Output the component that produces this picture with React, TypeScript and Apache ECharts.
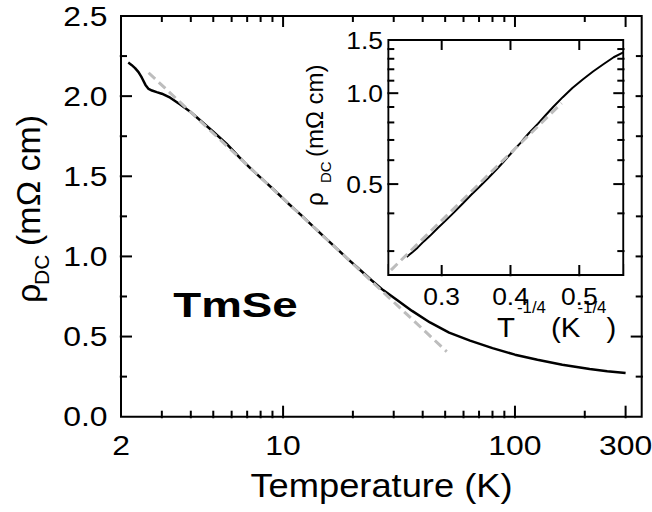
import React, { useEffect, useRef } from 'react';
import * as echarts from 'echarts';

// ---------- data ----------
const mainT = [2.15, 2.22, 2.3, 2.38, 2.46, 2.55, 2.63, 2.72, 2.85, 3.0, 3.26, 3.6, 3.98, 4.4, 5.0, 5.7, 6.5, 7.2, 8.2, 9.3, 10.5, 12, 13.5, 15, 17, 19, 21.5, 24, 27, 31, 36, 43, 52, 64, 80, 100, 125, 160, 210, 250, 300];
const mainRho = [2.21, 2.195, 2.175, 2.15, 2.115, 2.07, 2.045, 2.035, 2.025, 2.015, 1.99, 1.948, 1.903, 1.848, 1.778, 1.704, 1.617, 1.552, 1.478, 1.405, 1.332, 1.256, 1.186, 1.124, 1.05, 0.985, 0.915, 0.853, 0.79, 0.728, 0.66, 0.588, 0.525, 0.475, 0.428, 0.387, 0.355, 0.324, 0.297, 0.284, 0.272];
const mainFitT = [2.63, 50.8];
const mainFitRho = [2.146, 0.406];

const insetX = [0.249, 0.257, 0.265, 0.274, 0.283, 0.294, 0.305, 0.318, 0.331, 0.343, 0.355, 0.367, 0.38, 0.39, 0.4, 0.407, 0.414, 0.42, 0.427, 0.433, 0.44, 0.45, 0.462, 0.476, 0.49, 0.505, 0.52, 0.535, 0.55, 0.564];
const insetRho = [0.287, 0.297, 0.308, 0.323, 0.337, 0.357, 0.377, 0.403, 0.432, 0.461, 0.49, 0.522, 0.56, 0.593, 0.629, 0.656, 0.682, 0.708, 0.738, 0.763, 0.793, 0.84, 0.9, 0.97, 1.04, 1.11, 1.18, 1.247, 1.315, 1.365];
const insetFitX = [0.2263, 0.4744];
const insetFitRho = [0.2596, 0.927];

// ---------- ticks & labels ----------
const mainXMajorTicks = [10, 100, 300];
const mainXMinorTicks = [3, 4, 5, 6, 7, 8, 9, 20, 30, 40, 50, 60, 70, 80, 90, 200];
const mainXLabels = [2, 10, 100, 300];
const mainYMajorTicks = [0.5, 1.0, 1.5, 2.0];
const mainYMinorTicks = [0.25, 0.75, 1.25, 1.75, 2.25];
const mainYLabels = [0, 0.5, 1.0, 1.5, 2.0, 2.5];
const insetXMajorTicks = [0.3, 0.4, 0.5];
const insetXLabels = [0.3, 0.4, 0.5];
const insetYMajorTicks = [0.5, 1.0];
const insetYMinorTicks = [0.3, 0.4, 0.6, 0.7, 0.8, 0.9, 1.1, 1.2, 1.3, 1.4];
const insetYLabels = [0.5, 1.0, 1.5];

const MAIN_X_RANGE = [2, 352];
const MAIN_Y_RANGE = [0, 2.5];
const INSET_X_RANGE = [0.2224, 0.564];
const INSET_Y_RANGE = [0.25, 1.5];

const FONT = '"Liberation Sans", Arial, Helvetica, sans-serif';

// Tick marks: a thin rect symbol centred on the frame edge (placed through the
// axis scales); the outer half is hidden by white strips drawn outside the frame.
function tickSeries(points: number[][], grid: number, len: number, isX: boolean) {
  return {
    type: 'scatter',
    xAxisIndex: grid,
    yAxisIndex: grid,
    silent: true,
    clip: true,
    z: 6,
    symbol: 'rect',
    symbolSize: isX ? [2, 2 * len] : [2 * len, 2],
    itemStyle: { color: '#000', opacity: 1 },
    emphasis: { disabled: true },
    data: points,
  };
}

function xTicks(values: number[], grid: number, yRange: number[], len: number) {
  return [
    tickSeries(values.map((v) => [v, yRange[0]]), grid, len, true),
    tickSeries(values.map((v) => [v, yRange[1]]), grid, len, true),
  ];
}

function yTicks(values: number[], grid: number, xRange: number[], len: number) {
  return [
    tickSeries(values.map((v) => [xRange[0], v]), grid, len, false),
    tickSeries(values.map((v) => [xRange[1], v]), grid, len, false),
  ];
}

function xLabelSeries(values: number[], grid: number, yRef: number, dy: number, size: number, sx: number, fmt: (v: number) => string) {
  return {
    type: 'custom',
    xAxisIndex: grid,
    yAxisIndex: grid,
    silent: true,
    z: 8,
    data: values.map((v) => [v, yRef]),
    renderItem: (params: any, api: any) => {
      const cs = params.coordSys;
      const v = api.value(0);
      const x = api.coord([v, api.value(1)])[0];
      return {
        type: 'text',
        x,
        y: cs.y + cs.height + dy,
        scaleX: sx,
        style: {
          text: fmt(v),
          fill: '#000',
          font: `${size}px ${FONT}`,
          textAlign: 'center',
          textVerticalAlign: 'middle',
        },
      };
    },
  };
}

function yLabelSeries(values: number[], grid: number, xRef: number, dx: number, size: number, sx: number, fmt: (v: number) => string) {
  return {
    type: 'custom',
    xAxisIndex: grid,
    yAxisIndex: grid,
    silent: true,
    z: 8,
    data: values.map((v) => [xRef, v]),
    renderItem: (params: any, api: any) => {
      const cs = params.coordSys;
      const v = api.value(1);
      const y = api.coord([api.value(0), v])[1];
      return {
        type: 'text',
        x: cs.x - dx,
        y,
        scaleX: sx,
        style: {
          text: fmt(v),
          fill: '#000',
          font: `${size}px ${FONT}`,
          textAlign: 'right',
          textVerticalAlign: 'middle',
        },
      };
    },
  };
}

const hiddenAxis = {
  axisLine: { show: false },
  axisTick: { show: false },
  axisLabel: { show: false },
  splitLine: { show: false },
  minorTick: { show: false },
  minorSplitLine: { show: false },
};

function txt(text: string, x: number, y: number, size: number, opts: any = {}) {
  return {
    type: 'text',
    x,
    y,
    rotation: opts.rotation || 0,
    scaleX: opts.scaleX || 1,
    z: 10,
    style: {
      text,
      fill: '#000',
      font: `${opts.bold ? 'bold ' : ''}${size}px ${FONT}`,
      textAlign: opts.align || 'left',
      textVerticalAlign: 'middle',
    },
  };
}

// white strip outside a frame edge that hides the outer half of the tick marks
function strip(x: number, y: number, width: number, height: number) {
  return {
    type: 'rect',
    z: 7,
    silent: true,
    shape: { x, y, width, height },
    style: { fill: '#ffffff', stroke: null },
  };
}

export default function App() {
  const ref = useRef<HTMLDivElement>(null);

  useEffect(() => {
    if (!ref.current) return;
    const chart = echarts.init(ref.current, undefined, { renderer: 'svg' });
    const R = Math.PI / 2;
    const option: any = {
      animation: false,
      backgroundColor: '#fff',
      grid: [
        { left: 121, top: 16, width: 520.7, height: 400.7, show: true, borderColor: '#000', borderWidth: 2, backgroundColor: 'transparent' },
        { left: 388.3, top: 40, width: 235, height: 235, show: true, borderColor: '#000', borderWidth: 2, backgroundColor: '#fff' },
      ],
      xAxis: [
        { type: 'log', logBase: 10, gridIndex: 0, min: MAIN_X_RANGE[0], max: MAIN_X_RANGE[1], ...hiddenAxis },
        { type: 'value', gridIndex: 1, min: INSET_X_RANGE[0], max: INSET_X_RANGE[1], ...hiddenAxis },
      ],
      yAxis: [
        { type: 'value', gridIndex: 0, min: MAIN_Y_RANGE[0], max: MAIN_Y_RANGE[1], ...hiddenAxis },
        { type: 'log', logBase: 10, gridIndex: 1, min: INSET_Y_RANGE[0], max: INSET_Y_RANGE[1], ...hiddenAxis },
      ],
      series: [
        {
          type: 'line', xAxisIndex: 0, yAxisIndex: 0, symbol: 'none', z: 3,
          lineStyle: { color: '#000', width: 2.5 },
          data: mainT.map((t, i) => [t, mainRho[i]]),
        },
        {
          type: 'line', xAxisIndex: 0, yAxisIndex: 0, symbol: 'none', z: 4,
          lineStyle: { color: '#bdbdbd', width: 3, type: [9, 5] },
          data: mainFitT.map((t, i) => [t, mainFitRho[i]]),
        },
        {
          type: 'line', xAxisIndex: 1, yAxisIndex: 1, symbol: 'none', z: 3,
          lineStyle: { color: '#000', width: 2 },
          data: insetX.map((x, i) => [x, insetRho[i]]),
        },
        {
          type: 'line', xAxisIndex: 1, yAxisIndex: 1, symbol: 'none', z: 4,
          lineStyle: { color: '#bdbdbd', width: 3, type: [9, 5] },
          data: insetFitX.map((x, i) => [x, insetFitRho[i]]),
        },
        ...xTicks(mainXMajorTicks, 0, MAIN_Y_RANGE, 11),
        ...xTicks(mainXMinorTicks, 0, MAIN_Y_RANGE, 6),
        ...yTicks(mainYMajorTicks, 0, MAIN_X_RANGE, 11),
        ...yTicks(mainYMinorTicks, 0, MAIN_X_RANGE, 6),
        xLabelSeries(mainXLabels, 0, MAIN_Y_RANGE[0], 28.5, 28, 1.14, (v) => String(v)),
        yLabelSeries(mainYLabels, 0, MAIN_X_RANGE[0], 13.5, 28, 1.14, (v) => v.toFixed(1)),
        ...xTicks(insetXMajorTicks, 1, INSET_Y_RANGE, 10),
        ...yTicks(insetYMajorTicks, 1, INSET_X_RANGE, 10),
        ...yTicks(insetYMinorTicks, 1, INSET_X_RANGE, 6),
        xLabelSeries(insetXLabels, 1, INSET_Y_RANGE[0], 21, 24, 1.1, (v) => v.toFixed(1)),
        yLabelSeries(insetYLabels, 1, INSET_X_RANGE[0], 5.3, 24, 1.1, (v) => v.toFixed(1)),
      ],
      graphic: [
        // strips outside the main frame
        strip(106, 2, 13.8, 430),
        strip(643, 2, 9, 430),
        strip(106, 1, 546, 13.9),
        strip(106, 418.2, 546, 12),
        // strips outside the inset frame
        strip(376, 28, 11.2, 236),
        strip(624.6, 28, 11, 236),
        strip(420, 27, 180, 11.9),
        strip(420, 276.3, 180, 10.5),
        // texts
        txt('Temperature (K)', 381.5, 485.5, 33, { align: 'center', scaleX: 1.1 }),
        txt('TmSe', 235.5, 304.5, 36, { align: 'center', bold: true, scaleX: 1.27 }),
        txt('ρ', 28, 303, 34, { rotation: R }),
        txt('DC', 41, 285, 21, { rotation: R }),
        txt('(mΩ cm)', 28, 246, 34, { rotation: R }),
        txt('ρ', 314.6, 206, 24, { rotation: R }),
        txt('DC', 325, 183, 15, { rotation: R }),
        txt('(mΩ cm)', 314.6, 157, 24, { rotation: R }),
        txt('T', 497, 327, 28, { scaleX: 1.05 }),
        txt('-1/4', 517, 307.5, 16, { scaleX: 1.05 }),
        txt('(K', 551, 327, 28, { scaleX: 1.05 }),
        txt('-1/4', 577.5, 307.5, 16, { scaleX: 1.05 }),
        txt(')', 606.5, 327, 28, { scaleX: 1.05 }),
      ],
    };
    chart.setOption(option);
    return () => chart.dispose();
  }, []);

  return <div ref={ref} style={{ position: 'fixed', left: 0, top: 0, width: 652, height: 512 }} />;
}
